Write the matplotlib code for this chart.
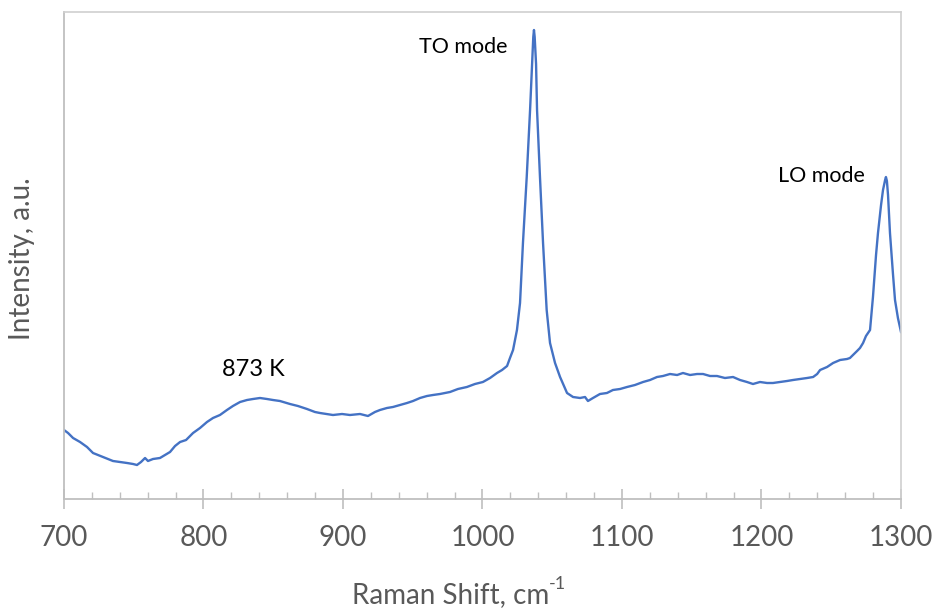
import matplotlib
matplotlib.use("Agg")
import matplotlib.pyplot as plt
from matplotlib.ticker import MultipleLocator

plt.rcParams['font.family'] = ['Lato', 'DejaVu Sans']

raman_shift = [700.0, 702.9, 706.5, 711.5, 716.5, 720.8, 728.0, 735.1, 740.1, 745.2,
               749.5, 752.3, 755.2, 758.1, 760.2, 763.8, 768.8, 776.0, 779.6, 783.2,
               787.5, 792.5, 797.5, 802.5, 806.8, 811.8, 816.8, 821.1, 826.2, 831.2,
               835.5, 840.5, 845.5, 849.8, 854.8, 862.0, 867.7, 874.2, 879.9, 883.5,
               892.8, 899.3, 905.0, 912.2, 917.9, 922.9, 926.5, 931.5, 935.8, 940.9,
               945.9, 950.2, 955.2, 960.2, 964.5, 969.5, 976.7, 982.4, 988.8, 994.6,
               1000.3, 1005.4, 1010.4, 1014.0, 1017.6, 1019.7, 1021.9, 1024.7, 1026.9, 1029.0,
               1031.7, 1034.1, 1035.5, 1036.4, 1036.9, 1037.4, 1038.4, 1039.1, 1041.2, 1043.4,
               1046.0, 1048.4, 1052.0, 1055.6, 1060.6, 1064.9, 1069.9, 1073.5, 1075.6, 1079.2,
               1084.2, 1089.2, 1093.5, 1098.6, 1103.6, 1109.3, 1115.1, 1120.1, 1125.1, 1129.4,
               1134.4, 1139.5, 1143.7, 1148.8, 1153.8, 1158.1, 1163.1, 1168.1, 1173.8, 1179.6,
               1184.6, 1189.6, 1193.9, 1198.9, 1204.0, 1208.2, 1213.3, 1218.3, 1222.6, 1227.6,
               1232.7, 1237.0, 1239.9, 1242.0, 1247.0, 1251.3, 1256.3, 1261.3, 1263.4, 1265.6,
               1268.5, 1270.6, 1272.8, 1274.9, 1277.8, 1279.9, 1282.1, 1283.5, 1285.7, 1287.1,
               1288.6, 1289.2, 1289.9, 1290.7, 1292.1, 1294.3, 1295.7, 1297.8, 1300.0]

intensity = [69, 66, 61, 57, 52, 46, 42, 38, 37, 36,
             35, 34, 37, 41, 38, 40, 41, 47, 53, 57,
             59, 66, 71, 77, 81, 84, 89, 93, 97, 99,
             100, 101, 100, 99, 98, 95, 93, 90, 87, 86,
             84, 85, 84, 85, 83, 87, 89, 91, 92, 94,
             96, 98, 101, 103, 104, 105, 107, 110, 112, 115,
             117, 121, 126, 129, 133, 141, 149, 169, 196, 256,
             322, 389, 435, 462, 469, 462, 435, 389, 322, 256,
             189, 156, 136, 122, 106, 102, 101, 102, 98, 101,
             105, 106, 109, 110, 112, 114, 117, 119, 122, 123,
             125, 124, 126, 124, 125, 125, 123, 123, 121, 122,
             119, 117, 115, 117, 116, 116, 117, 118, 119, 120,
             121, 122, 125, 129, 132, 136, 139, 140, 141, 144,
             148, 151, 156, 163, 169, 202, 244, 266, 294, 309,
             319, 322, 318, 304, 266, 224, 199, 181, 167]

x_ticks = [700, 800, 900, 1000, 1100, 1200, 1300]

fig = plt.figure(figsize=(9.35, 6.09), dpi=100)
ax = fig.add_axes([64/935, 1 - 499/609, (901-64)/935, (499-12)/609])

ax.plot(raman_shift, intensity, color='#4472C4', linewidth=1.7)

ax.set_xlim(700, 1300)
ax.set_ylim(0, 487)
ax.set_xticks(x_ticks)
ax.set_xticklabels([str(t) for t in x_ticks])
ax.xaxis.set_minor_locator(MultipleLocator(20))
ax.set_yticks([])

ax.tick_params(axis='x', which='major', direction='inout', length=14, width=1.2,
               color='#BFBFBF', labelsize=20, labelcolor='#595959', pad=12)
ax.tick_params(axis='x', which='minor', direction='in', length=5, width=1.0,
               color='#BFBFBF')

for side in ['left', 'bottom']:
    ax.spines[side].set_color('#BFBFBF')
    ax.spines[side].set_linewidth(1.3)
for side in ['top', 'right']:
    ax.spines[side].set_color('#D0D0D0')
    ax.spines[side].set_linewidth(1.2)

xl = fig.text(352/935, 1 - 603/609, 'Raman Shift, cm', ha='left', va='baseline',
              fontsize=20, color='#595959')
ax.annotate('-1', xy=(1.0, 0.62), xycoords=xl, ha='left', va='bottom',
            fontsize=13, color='#595959', annotation_clip=False)
fig.text(22/935, 1 - 259/609, 'Intensity, a.u.', ha='center', va='center',
         rotation=90, fontsize=20, color='#595959')

ax.text(986.0, 487 - 35, 'TO mode', ha='center', va='center', fontsize=15.5, color='black')
ax.text(1242.7, 487 - 164, 'LO mode', ha='center', va='center', fontsize=15.5, color='black')
ax.text(835.5, 487 - 358, '873 K', ha='center', va='center', fontsize=17, color='black')

fig.savefig('out.png', dpi=100)
